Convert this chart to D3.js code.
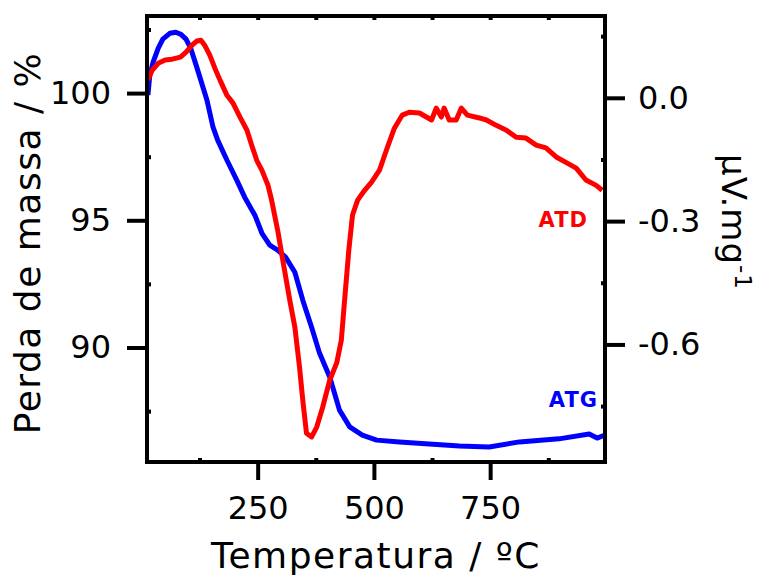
<!DOCTYPE html>
<html lang="pt">
<head>
    <meta charset="UTF-8">
    <title>ATG / ATD</title>
    <script src="https://d3js.org/d3.v7.min.js"></script>
    <style>
        body { margin: 0; background: #fff; }
        text { font-family: "DejaVu Sans", Verdana, sans-serif; }
    </style>
</head>
<body>
<script>
    // ATG - perda de massa (%) vs temperatura (oC)
    var atgTemp = [14, 18, 25, 36, 46, 61, 74, 85, 96, 106, 119, 141, 154, 164, 184, 205, 222, 244, 259, 276, 293, 310, 330, 347, 366, 383, 405, 426, 448, 475, 506, 555, 619, 684, 748, 813, 898, 963, 980, 997];
    var atgMass = [99.92, 100.70, 101.21, 101.76, 102.12, 102.35, 102.39, 102.31, 102.12, 101.76, 101.02, 99.72, 98.66, 98.15, 97.36, 96.58, 95.91, 95.20, 94.50, 94.02, 93.83, 93.55, 92.96, 91.86, 90.80, 89.78, 88.84, 87.54, 86.88, 86.56, 86.36, 86.29, 86.21, 86.13, 86.09, 86.29, 86.41, 86.60, 86.44, 86.56];

    // ATD - sinal (uV/mg) vs temperatura (oC)
    var atdTemp = [14, 23, 36, 51, 66, 84, 96, 109, 119, 128, 136, 147, 158, 169, 184, 197, 212, 227, 237, 248, 259, 272, 280, 293, 304, 319, 330, 340, 347, 355, 366, 377, 390, 405, 420, 430, 437, 446, 454, 465, 480, 495, 512, 527, 544, 561, 576, 598, 624, 634, 645, 651, 662, 677, 688, 701, 727, 742, 763, 785, 806, 827, 849, 870, 892, 913, 935, 956, 978, 991];
    var atdSignal = [0.043, 0.067, 0.084, 0.092, 0.094, 0.099, 0.111, 0.128, 0.138, 0.140, 0.128, 0.104, 0.072, 0.043, 0.006, -0.013, -0.047, -0.079, -0.115, -0.152, -0.176, -0.212, -0.249, -0.322, -0.395, -0.492, -0.558, -0.655, -0.735, -0.816, -0.825, -0.801, -0.752, -0.687, -0.645, -0.589, -0.492, -0.371, -0.285, -0.249, -0.225, -0.205, -0.176, -0.127, -0.074, -0.042, -0.035, -0.037, -0.054, -0.025, -0.047, -0.025, -0.054, -0.054, -0.025, -0.042, -0.049, -0.054, -0.067, -0.079, -0.096, -0.098, -0.115, -0.122, -0.144, -0.157, -0.171, -0.200, -0.213, -0.225];

    var xTicks = [250, 500, 750];
    var xMinor = [125, 375, 625, 875];
    var leftTicks = [100, 95, 90];
    var leftMinor = [102.5, 97.5, 92.5, 87.5];
    var rightTicks = [0.0, -0.3, -0.6];
    var rightMinor = [0.15, -0.15, -0.45, -0.75];

    var width = 758, height = 575;
    var plotLeft = 147, plotRight = 605, plotTop = 16, plotBottom = 462;

    var svg = d3.select("body").append("svg")
        .attr("width", width)
        .attr("height", height);

    var x = d3.scaleLinear().domain([12, 997]).range([plotLeft, plotRight]);
    var yL = d3.scaleLinear().domain([85.5, 103.03]).range([plotBottom, plotTop]);
    var yR = d3.scaleLinear().domain([-0.886, 0.199]).range([plotBottom, plotTop]);

    // curves
    var atgLine = d3.line()
        .x(function(d, i) { return x(atgTemp[i]); })
        .y(function(d) { return yL(d); });
    var atdLine = d3.line()
        .x(function(d, i) { return x(atdTemp[i]); })
        .y(function(d) { return yR(d); });

    svg.append("path")
        .attr("d", atgLine(atgMass))
        .attr("fill", "none")
        .attr("stroke", "#0000ff")
        .attr("stroke-width", 5)
        .attr("stroke-linejoin", "round");

    svg.append("path")
        .attr("d", atdLine(atdSignal))
        .attr("fill", "none")
        .attr("stroke", "#ff0000")
        .attr("stroke-width", 5)
        .attr("stroke-linejoin", "round");

    // axes
    function styleAxis(g) {
        g.select(".domain").remove();
        g.selectAll("line").attr("stroke", "#000").attr("stroke-width", 4);
        g.selectAll("text")
            .attr("fill", "#000")
            .style("font-size", "32px")
            .style("font-family", "'DejaVu Sans', Verdana, sans-serif");
    }

    // plain hyphen for negatives, like the original
    var fmtRight = function(d) { return d.toFixed(1); };

    // bottom
    svg.append("g")
        .attr("transform", "translate(0," + plotBottom + ")")
        .call(d3.axisBottom(x).tickValues(xTicks).tickSize(18).tickPadding(16).tickFormat(d3.format("d")))
        .call(styleAxis);
    svg.append("g")
        .attr("transform", "translate(0," + plotBottom + ")")
        .call(d3.axisTop(x).tickValues(xMinor).tickSize(4).tickFormat(""))
        .call(styleAxis);
    // top
    svg.append("g")
        .attr("transform", "translate(0," + plotTop + ")")
        .call(d3.axisBottom(x).tickValues(xMinor.concat(xTicks)).tickSize(4).tickFormat(""))
        .call(styleAxis);

    // left
    svg.append("g")
        .attr("transform", "translate(" + plotLeft + ",0)")
        .call(d3.axisLeft(yL).tickValues(leftTicks).tickSize(20).tickPadding(16).tickFormat(d3.format("d")))
        .call(styleAxis);
    svg.append("g")
        .attr("transform", "translate(" + plotLeft + ",0)")
        .call(d3.axisRight(yL).tickValues(leftMinor).tickSize(4).tickFormat(""))
        .call(styleAxis);

    // right
    svg.append("g")
        .attr("transform", "translate(" + plotRight + ",0)")
        .call(d3.axisRight(yR).tickValues(rightTicks).tickSize(20).tickPadding(13).tickFormat(fmtRight))
        .call(styleAxis);
    svg.append("g")
        .attr("transform", "translate(" + plotRight + ",0)")
        .call(d3.axisLeft(yR).tickValues(rightMinor).tickSize(4).tickFormat(""))
        .call(styleAxis);

    // frame
    svg.append("rect")
        .attr("x", plotLeft).attr("y", plotTop)
        .attr("width", plotRight - plotLeft).attr("height", plotBottom - plotTop)
        .attr("fill", "none")
        .attr("stroke", "#000")
        .attr("stroke-width", 4);

    // titles
    svg.append("text")
        .attr("x", 376)
        .attr("y", 568)
        .attr("text-anchor", "middle")
        .style("font-size", "36px")
        .style("letter-spacing", "1.5px")
        .text("Temperatura / ºC");

    svg.append("text")
        .attr("transform", "translate(40,243) rotate(-90)")
        .attr("text-anchor", "middle")
        .style("font-size", "36px")
        .style("letter-spacing", "1.5px")
        .text("Perda de massa / %");

    var rt = svg.append("text")
        .attr("transform", "translate(722,222) rotate(90)")
        .attr("text-anchor", "middle")
        .style("font-size", "34px")
        .style("letter-spacing", "1px");
    rt.append("tspan").text("µV.mg");
    rt.append("tspan").attr("dy", -13).style("font-size", "23px").text("-1");

    // series labels
    svg.append("text")
        .attr("x", 588).attr("y", 227)
        .attr("text-anchor", "end")
        .attr("fill", "#ff0000")
        .style("font-size", "21px")
        .style("font-weight", "bold")
        .style("letter-spacing", "1px")
        .text("ATD");

    svg.append("text")
        .attr("x", 598).attr("y", 407)
        .attr("text-anchor", "end")
        .attr("fill", "#0000ff")
        .style("font-size", "21px")
        .style("font-weight", "bold")
        .style("letter-spacing", "1px")
        .text("ATG");
</script>
</body>
</html>
